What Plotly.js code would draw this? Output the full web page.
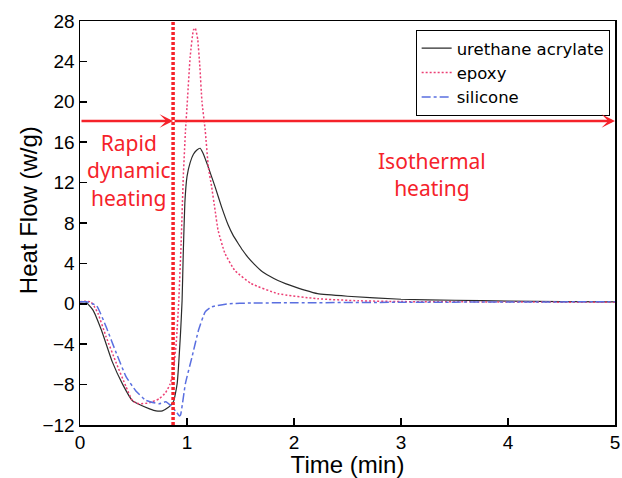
<!DOCTYPE html>
<html>
<head>
<meta charset="utf-8">
<script src="https://cdn.plot.ly/plotly-3.0.1.min.js"></script>
<style>html,body{margin:0;padding:0;background:#fff;}#chart{width:622px;height:478px;}</style>
</head>
<body>
<div id="chart"></div>
<script>
// Time (min) and heat flow (W/g)
var urethaneX = [0, 0.05, 0.12, 0.2, 0.3, 0.4, 0.49, 0.55, 0.65, 0.71, 0.77, 0.82, 0.85, 0.877, 0.908, 0.939, 0.954, 0.965, 0.98, 1.0, 1.03, 1.06, 1.09, 1.123, 1.15, 1.2, 1.262, 1.323, 1.385, 1.43, 1.477, 1.52, 1.57, 1.63, 1.69, 1.77, 1.85, 1.92, 2.0, 2.1, 2.22, 2.5, 3.0, 3.5, 4.0, 4.5, 5.0];
var urethaneY = [0.2, 0.2, -0.6, -2.6, -5.7, -8.0, -9.6, -9.95, -10.4, -10.6, -10.6, -10.3, -10.0, -9.6, -7.9, -3.0, 0.3, 5.0, 10.0, 12.6, 14.0, 14.8, 15.2, 15.4, 14.9, 13.5, 11.6, 9.6, 7.8, 6.8, 6.0, 5.3, 4.6, 3.9, 3.3, 2.75, 2.3, 2.0, 1.7, 1.35, 1.0, 0.75, 0.45, 0.35, 0.27, 0.22, 0.2];

var epoxyX = [0, 0.05, 0.1, 0.13, 0.17, 0.245, 0.34, 0.43, 0.49, 0.55, 0.65, 0.74, 0.8, 0.84, 0.87, 0.9, 0.923, 0.945, 0.965, 0.985, 1.0, 1.03, 1.06, 1.077, 1.1, 1.12, 1.14, 1.17, 1.2, 1.23, 1.262, 1.29, 1.354, 1.447, 1.6, 1.85, 2.22, 2.6, 3.0, 4.0, 5.0];
var epoxyY = [0.2, 0.25, 0.2, -0.2, -1.0, -3.3, -5.9, -8.2, -9.6, -9.9, -9.8, -9.4, -8.8, -8.0, -6.8, -3.8, 0.3, 6.0, 12.5, 17.0, 19.5, 24.5, 27.1, 27.3, 26.2, 23.5, 20.0, 17.2, 13.5, 11.6, 9.3, 7.3, 5.0, 3.3, 2.0, 1.0, 0.5, 0.3, 0.22, 0.18, 0.15];

var siliconeX = [0, 0.06, 0.155, 0.245, 0.34, 0.43, 0.52, 0.615, 0.74, 0.8, 0.85, 0.9, 0.93, 0.94, 0.985, 1.046, 1.108, 1.17, 1.23, 1.385, 1.6, 2.0, 3.0, 4.0, 5.0];
var siliconeY = [0.2, 0.2, -0.2, -2.3, -4.9, -7.2, -8.6, -9.55, -9.9, -9.7, -10.1, -10.7, -11.1, -11.0, -7.9, -5.3, -2.6, -0.8, -0.3, 0.0, 0.08, 0.1, 0.15, 0.18, 0.2];

var seriesNames = ['urethane acrylate', 'epoxy', 'silicone'];
var xTicks = [0, 1, 2, 3, 4, 5];
var yTicks = [-12, -8, -4, 0, 4, 8, 12, 16, 20, 24, 28];

// annotation values
var stageBoundary = 0.87;   // min, end of rapid dynamic heating
var arrowLevel = 18.1;      // W/g height of the arrows
var stageLabels = ['Rapid<br>dynamic<br>heating', 'Isothermal<br>heating'];
var stageLabelX = [0.457, 3.29];
var stageLabelY = [13.2, 12.8];

var red = '#f5222a';
var axisFont = 'Liberation Sans, Arial, sans-serif';

var traces = [
  {x: urethaneX, y: urethaneY, name: seriesNames[0], mode: 'lines',
   line: {color: '#2b2b2b', width: 1.2, shape: 'spline', smoothing: 0.4}},
  {x: epoxyX, y: epoxyY, name: seriesNames[1], mode: 'lines',
   line: {color: '#ec3f74', width: 1.5, dash: '2px,2px', shape: 'spline', smoothing: 0.4}},
  {x: siliconeX, y: siliconeY, name: seriesNames[2], mode: 'lines',
   line: {color: '#5a6fe0', width: 1.5, dash: 'dashdot', shape: 'spline', smoothing: 0.4}}
];

var layout = {
  width: 622, height: 478,
  margin: {l: 80, r: 7, t: 21, b: 53},
  paper_bgcolor: '#fff', plot_bgcolor: '#fff',
  font: {family: axisFont, color: '#000'},
  showlegend: true,
  legend: {x: 0.99, xanchor: 'right', y: 0.978, yanchor: 'top',
           bgcolor: '#fff', bordercolor: '#000', borderwidth: 1,
           font: {size: 16.5, family: 'DejaVu Sans, sans-serif', color: '#000'}, tracegroupgap: 0},
  xaxis: {range: [0, 5], tickvals: xTicks, ticks: 'inside', ticklen: 7, tickwidth: 1.5,
          tickcolor: '#000', showline: true, linewidth: 1.5, linecolor: '#000', mirror: true,
          showgrid: false, zeroline: false, tickfont: {size: 19, family: axisFont},
          ticklabeloverflow: 'allow',
          title: {text: 'Time (min)', font: {size: 24, family: axisFont}, standoff: 4}},
  yaxis: {range: [-12, 28], tickvals: yTicks, ticks: 'inside', ticklen: 7, tickwidth: 1.5,
          tickcolor: '#000', showline: true, linewidth: 1.5, linecolor: '#000', mirror: true,
          showgrid: false, zeroline: false, tickfont: {size: 19, family: axisFont}},
  shapes: [
    {type: 'line', xref: 'x', yref: 'y', x0: stageBoundary, x1: stageBoundary, y0: -12, y1: 28,
     line: {color: red, width: 3.5, dash: '3px,2px'}}
  ],
  annotations: [
    {xref: 'paper', yref: 'paper', x: -0.097, y: 0.532, xanchor: 'center', yanchor: 'middle',
     text: 'Heat Flow (w/g)', textangle: -90, showarrow: false,
     font: {size: 24, family: axisFont, color: '#000'}},
    {xref: 'x', yref: 'y', axref: 'x', ayref: 'y', x: stageBoundary, y: arrowLevel,
     ax: 0, ay: arrowLevel, text: '', showarrow: true, arrowhead: 3, arrowsize: 0.9,
     arrowwidth: 2.5, arrowcolor: red, standoff: 0},
    {xref: 'x', yref: 'y', axref: 'x', ayref: 'y', x: 5, y: arrowLevel,
     ax: stageBoundary, ay: arrowLevel, text: '', showarrow: true, arrowhead: 3, arrowsize: 0.9,
     arrowwidth: 2.5, arrowcolor: red, standoff: 0},
    {xref: 'x', yref: 'y', x: stageLabelX[0], y: stageLabelY[0], text: stageLabels[0],
     showarrow: false, align: 'center', font: {size: 21, family: 'Noto Sans, sans-serif', color: red}},
    {xref: 'x', yref: 'y', x: stageLabelX[1], y: stageLabelY[1], text: stageLabels[1],
     showarrow: false, align: 'center', font: {size: 21, family: 'Noto Sans, sans-serif', color: red}}
  ]
};

Plotly.newPlot('chart', traces, layout, {displayModeBar: false, staticPlot: true});
</script>
</body>
</html>
